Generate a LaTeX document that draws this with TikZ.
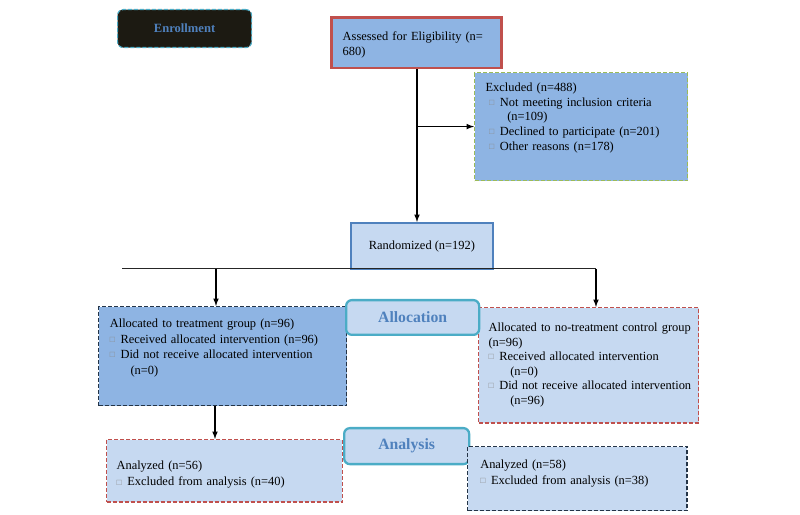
\documentclass[tikz,border=0pt]{standalone}
\usepackage{fontspec}
\setmainfont{Liberation Serif}
\usetikzlibrary{arrows}
\newcommand{\sqbul}{\makebox[7.5pt][l]{\raisebox{0.6pt}{\textcolor{black!45}{\fontsize{6}{6}\selectfont\char"25A1}}}}
\begin{document}
\begin{tikzpicture}[x=0.7pt,y=-0.7pt,
  box/.style={draw,anchor=north west,inner ysep=0pt,align=left,font=\fontsize{8.7}{10.6}\selectfont},
  head/.style={draw=hdblue,line width=1.6pt,rounded corners=4pt,fill=lightfill,text=txtblue,anchor=north west,inner sep=0pt,font=\bfseries\fontsize{11}{13}\selectfont},
  dsh/.style={dash pattern=on 2.8pt off 1.4pt},
  darkdash/.style={dsh,draw=navyline,line width=0.8pt},
  reddash/.style={dsh,draw=redline,line width=0.8pt},
  arr/.style={-latex,line width=0.8pt}]
  \definecolor{darkfill}{HTML}{1C1A12}
  \definecolor{hdblue}{HTML}{4BACC6}
  \definecolor{txtblue}{HTML}{4F81BD}
  \definecolor{midfill}{HTML}{8EB4E3}
  \definecolor{lightfill}{HTML}{C6D9F1}
  \definecolor{redline}{HTML}{C0504D}
  \definecolor{greenline}{HTML}{9BBB59}
  \definecolor{blueline}{HTML}{4F81BD}
  \definecolor{navyline}{HTML}{243447}
  \useasboundingbox (0,0) rectangle (800,515);
  \node (enroll) [anchor=north west,minimum width=93.8pt,minimum height=26.6pt,inner sep=0pt,fill=darkfill,draw=hdblue,dsh,line width=0.8pt,rounded corners=4pt,text=txtblue,font=\bfseries\fontsize{8.8}{10}\selectfont] at (117,9) {Enrollment};
  \node (assess) [box,fill=midfill,draw=redline,line width=1.8pt,inner xsep=8pt,text width=103pt,text height=16.1pt,text depth=19.4pt] at (330,16) {Assessed for Eligibility (n=\\680)};
  \node (excl) [box,fill=midfill,draw=greenline,dsh,line width=0.8pt,inner xsep=7.7pt,text width=133.7pt,text height=13.1pt,text depth=62.5pt,font=\fontsize{8.7}{10.4}\selectfont] at (474,72) {Excluded (n=488)\\\hspace*{2.5pt}\sqbul Not meeting inclusion criteria\\\hspace*{15.2pt}(n=109)\\\hspace*{2.5pt}\sqbul Declined to participate (n=201)\\\hspace*{2.5pt}\sqbul Other reasons (n=178)};
  \node (rand) [anchor=north west,draw=blueline,line width=1.5pt,fill=lightfill,minimum width=99.2pt,minimum height=32.2pt,font=\fontsize{8.7}{10.6}\selectfont] at (350,222) {Randomized (n=192)};
  \node (treat) [box,darkdash,fill=midfill,inner xsep=7.9pt,text width=157.8pt,text height=14.9pt,text depth=54.4pt,font=\fontsize{8.7}{10.8}\selectfont] at (98,306) {\mbox{Allocated to treatment group (n=96)}\\\mbox{\sqbul Received allocated intervention (n=96)}\\\mbox{\sqbul Did not receive allocated intervention}\\\hspace*{14.5pt}(n=0)};
  \node (ctrl) [box,reddash,fill=lightfill,inner xsep=7pt,text width=140pt,text height=16.8pt,text depth=64pt,font=\fontsize{8.7}{10.2}\selectfont] at (478,307) {\mbox{Allocated to no-treatment control group}\\(n=96)\\\mbox{\sqbul Received allocated intervention}\\\hspace*{15.2pt}(n=0)\\\mbox{\sqbul Did not receive allocated intervention}\\\hspace*{15.2pt}(n=96)};
  \node (alloc) [head,minimum width=93.1pt,minimum height=24.3pt] at (345,299) {Allocation};
  \node (an56) [box,reddash,fill=lightfill,inner xsep=7pt,text width=151pt,text height=20.8pt,text depth=22.9pt,font=\fontsize{8.7}{11.7}\selectfont] at (106,439) {Analyzed (n=56)\\\sqbul Excluded from analysis (n=40)};
  \node (analysis) [head,minimum width=87.5pt,minimum height=25.2pt] at (343,427) {Analysis};
  \node (an58) [box,darkdash,fill=lightfill,inner xsep=8.9pt,text width=135.8pt,text height=15.1pt,text depth=29.9pt,font=\fontsize{8.7}{11.2}\selectfont] at (467,446) {Analyzed (n=58)\\\sqbul Excluded from analysis (n=38)};
  \coordinate (trunk) at (417,0);
  \coordinate (splitL) at (122,269);
  \coordinate (splitR) at (596,269);
  \coordinate (toTreat) at (216,269);
  \coordinate (down) at (215,0);
  \draw [arr] (trunk |- assess.south) -- (trunk |- rand.north);
  \draw [arr] (trunk |- excl.west) -- (excl.west);
  \draw [line width=0.7pt,black!85] (splitL) -- (splitR);
  \draw [arr] (toTreat) -- (toTreat |- treat.north);
  \draw [arr] (splitR) -- (splitR |- ctrl.north);
  \draw [arr] (down |- treat.south) -- (down |- an56.north);
\end{tikzpicture}
\end{document}
